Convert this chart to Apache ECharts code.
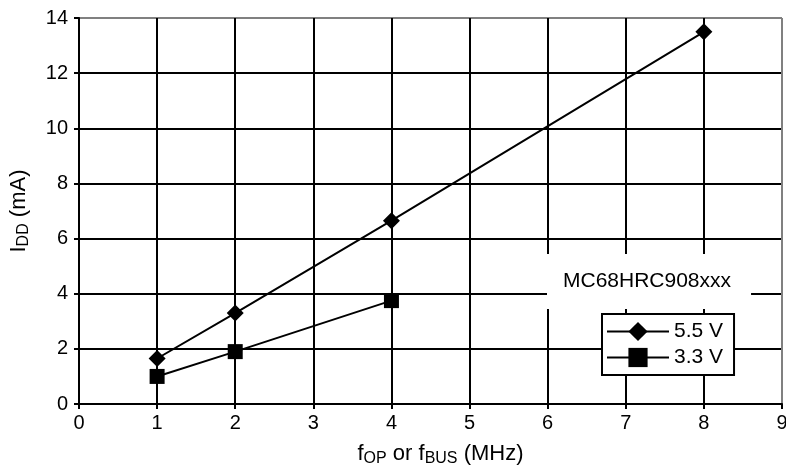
<!DOCTYPE html>
<html>
<head>
<meta charset="utf-8">
<script src="https://cdn.jsdelivr.net/npm/echarts@6/dist/echarts.min.js"></script>
<style>
  html, body { margin: 0; padding: 0; background: #fff; }
  #chart { width: 786px; height: 470px; }
</style>
</head>
<body>
<div id="chart"></div>
<script>
// supply current vs. frequency
var freq55 = [1, 2, 4, 8];
var idd55 = [1.65, 3.3, 6.65, 13.5];
var freq33 = [1, 2, 4];
var idd33 = [1.0, 1.9, 3.75];
var seriesNames = ['5.5 V', '3.3 V'];
var partName = 'MC68HRC908xxx';

function pairs(xs, ys) {
    var out = [];
    for (var i = 0; i < xs.length; i++) out.push([xs[i], ys[i]]);
    return out;
}

var FONT = 'Liberation Sans, Arial, sans-serif';
var subRich = {
    n: { fontSize: 22, fontFamily: FONT, color: '#000' },
    sub: { fontSize: 16, fontFamily: FONT, color: '#000', padding: [11, 0, 0, 0] }
};

// last grid line (top / right border) is grey in the original
function lineColors(count) {
    var c = [];
    for (var i = 0; i < count; i++) c.push(i === count - 1 ? '#808080' : '#000');
    return c;
}

var chart = echarts.init(document.getElementById('chart'));
var option = {
    animation: false,
    backgroundColor: '#fff',
    grid: { left: 79, top: 18, right: 4, bottom: 66, outerBoundsMode: 'none', containLabel: false },
    title: {
        text: partName,
        left: 547,
        top: 254,
        backgroundColor: '#fff',
        padding: [17, 20, 17, 16],
        textStyle: { fontSize: 21, fontWeight: 'normal', fontFamily: FONT, color: '#000' }
    },
    legend: {
        orient: 'vertical',
        left: 602,
        top: 314,
        backgroundColor: '#fff',
        borderColor: '#000',
        borderWidth: 2,
        borderRadius: 0,
        padding: [7, 11, 7, 4],
        itemGap: 5,
        itemWidth: 62,
        itemHeight: 24,
        textStyle: { fontSize: 21, fontFamily: FONT, color: '#000' },
        data: seriesNames
    },
    xAxis: {
        type: 'value',
        min: 0, max: 9, interval: 1,
        name: '{n|f}{sub|OP}{n| or f}{sub|BUS}{n| (MHz)}',
        nameLocation: 'middle',
        nameGap: 36,
        nameTextStyle: { rich: subRich, padding: [0, 0, 0, 20] },
        axisLine: { lineStyle: { color: '#000', width: 2 } },
        axisTick: { show: true, length: 5, lineStyle: { color: '#000', width: 2 } },
        axisLabel: { fontSize: 20, fontFamily: FONT, color: '#000', margin: 9 },
        splitLine: { show: true, lineStyle: { color: lineColors(10), width: 2 } }
    },
    yAxis: {
        type: 'value',
        min: 0, max: 14, interval: 2,
        name: '{n|I}{sub|DD}{n| (mA)}',
        nameLocation: 'middle',
        nameGap: 47,
        nameTextStyle: { rich: subRich },
        axisLine: { show: true, lineStyle: { color: '#000', width: 2 } },
        axisTick: { show: true, length: 5, lineStyle: { color: '#000', width: 2 } },
        axisLabel: { fontSize: 20, fontFamily: FONT, color: '#000', margin: 11 },
        splitLine: { show: true, lineStyle: { color: lineColors(8), width: 2 } }
    },
    series: [
        {
            name: seriesNames[0],
            type: 'line',
            data: pairs(freq55, idd55),
            symbol: 'diamond',
            symbolSize: 17,
            lineStyle: { color: '#000', width: 2 },
            itemStyle: { color: '#000', borderWidth: 0 },
            z: 3
        },
        {
            name: seriesNames[1],
            type: 'line',
            data: pairs(freq33, idd33),
            symbol: 'rect',
            symbolSize: 15,
            lineStyle: { color: '#000', width: 2 },
            itemStyle: { color: '#000', borderWidth: 0 },
            z: 3
        }
    ]
};
chart.setOption(option);
</script>
</body>
</html>
